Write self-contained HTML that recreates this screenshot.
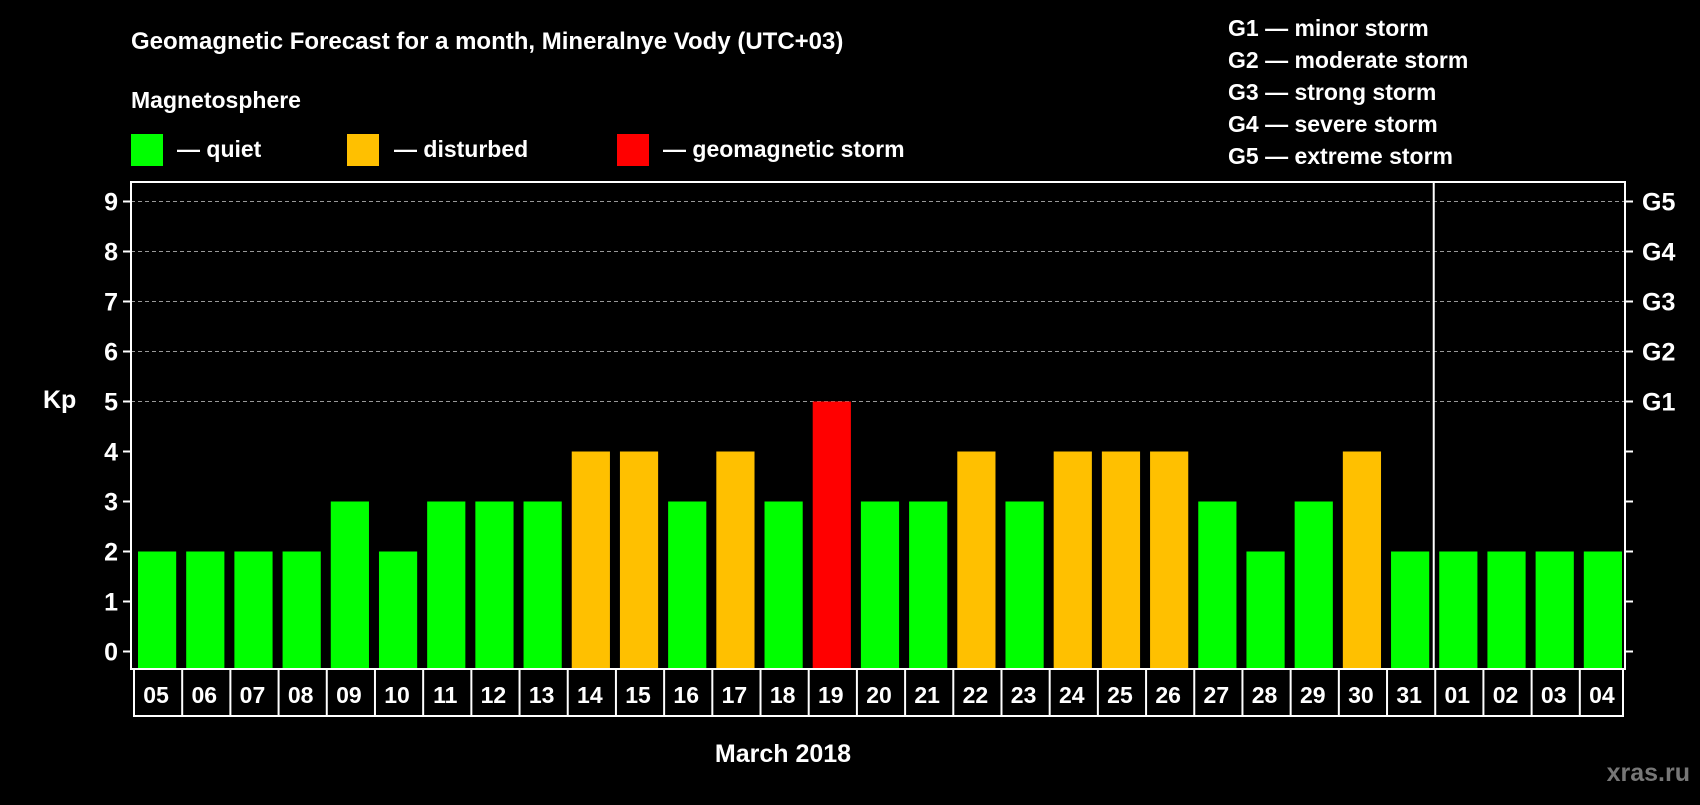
<!DOCTYPE html>
<html><head><meta charset="utf-8"><style>
body{margin:0;background:#000;width:1700px;height:800px;overflow:hidden;font-family:"Liberation Sans",sans-serif;}
svg text{font-family:"Liberation Sans",sans-serif;font-weight:bold;fill:#fff;}
</style></head><body>
<svg width="1700" height="800">
<text x="131" y="49" font-size="24">Geomagnetic Forecast for a month, Mineralnye Vody (UTC+03)</text>
<text x="131" y="108" font-size="23">Magnetosphere</text>
<rect x="131" y="134" width="32" height="32" fill="#00ff00"/>
<text x="177" y="157" font-size="23">— quiet</text>
<rect x="347" y="134" width="32" height="32" fill="#ffc000"/>
<text x="394" y="157" font-size="23">— disturbed</text>
<rect x="617" y="134" width="32" height="32" fill="#ff0000"/>
<text x="663" y="157" font-size="23">— geomagnetic storm</text>
<g font-size="23">
<text x="1228" y="36">G1 — minor storm</text>
<text x="1228" y="68">G2 — moderate storm</text>
<text x="1228" y="100">G3 — strong storm</text>
<text x="1228" y="132">G4 — severe storm</text>
<text x="1228" y="164">G5 — extreme storm</text>
</g>
<text x="43" y="408" font-size="25">Kp</text>
<text x="783" y="762" font-size="25" text-anchor="middle">March 2018</text>
<text x="1690" y="781" font-size="25" text-anchor="end" style="fill:#777">xras.ru</text>
<g id="plot"></g>
</svg>
<script>
const days=["05","06","07","08","09","10","11","12","13","14","15","16","17","18","19","20","21","22","23","24","25","26","27","28","29","30","31","01","02","03","04"];
const kp=[2,2,2,2,3,2,3,3,3,4,4,3,4,3,5,3,3,4,3,4,4,4,3,2,3,4,2,2,2,2,2];
const yTicks=[0,1,2,3,4,5,6,7,8,9];
const gLabels=["G1","G2","G3","G4","G5"];
const gLevels=[5,6,7,8,9];
const L=131,R=1625,T=182,B=669;
const y=v=>651.5-v*50;
const n=days.length,step=(R-L)/n;
const x=i=>L+i*step;
const NS="http://www.w3.org/2000/svg";
const g=document.getElementById('plot');
function mk(t,a){const e=document.createElementNS(NS,t);for(const k in a)e.setAttribute(k,a[k]);g.appendChild(e);return e;}
yTicks.forEach(v=>{
 if(v>=5){const l=mk('line',{x1:L,x2:R,y1:y(v),y2:y(v),stroke:'#999','stroke-dasharray':'4,3','stroke-width':1});
 
 }
 const t1=mk('line',{x1:L-8,x2:L,y1:y(v),y2:y(v),stroke:'#fff','stroke-width':2});
 
 
 const t2=mk('line',{x1:R,x2:R+8,y1:y(v),y2:y(v),stroke:'#fff','stroke-width':2});
 
 
 const tx=mk('text',{x:118,y:y(v)+9,'text-anchor':'end','font-size':25});tx.textContent=v;
 
 
});
gLevels.forEach((v,i)=>{const t=mk('text',{x:1642,y:y(v)+9,'font-size':25});t.textContent=gLabels[i];
 
 });
days.forEach((d,i)=>{
 const v=kp[i];const c=v>=5?'#ff0000':(v>=4?'#ffc000':'#00ff00');
 const b=mk('rect',{x:x(i)+7,y:y(v),width:step-10,height:B-y(v),fill:c});
 
 
 const lb=mk('text',{x:x(i)+step/2+1,y:703,'text-anchor':'middle','font-size':23});lb.textContent=d;
 
 
 const dv=mk('line',{x1:x(i)+3,x2:x(i)+3,y1:B,y2:716,stroke:'#fff','stroke-width':2});
 
 
});
const dvEnd=mk('line',{x1:R-2,x2:R-2,y1:B,y2:716,stroke:'#fff','stroke-width':2});


const bl=mk('line',{x1:x(0)+2,x2:R-1,y1:716,y2:716,stroke:'#fff','stroke-width':2});


const mon=mk('line',{x1:x(27)+1.5,x2:x(27)+1.5,y1:T,y2:B,stroke:'#fff','stroke-width':2});


const fr=mk('rect',{x:L,y:T,width:R-L,height:B-T,fill:'none',stroke:'#fff','stroke-width':2});


</script>
</body></html>
